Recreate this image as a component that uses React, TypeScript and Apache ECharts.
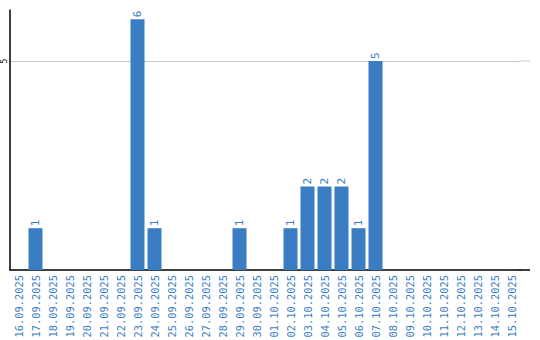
import React, { useEffect, useRef } from "react";
import * as echarts from "echarts";

const categories = [
  "16.09.2025", "17.09.2025", "18.09.2025", "19.09.2025", "20.09.2025",
  "21.09.2025", "22.09.2025", "23.09.2025", "24.09.2025", "25.09.2025",
  "26.09.2025", "27.09.2025", "28.09.2025", "29.09.2025", "30.09.2025",
  "01.10.2025", "02.10.2025", "03.10.2025", "04.10.2025", "05.10.2025",
  "06.10.2025", "07.10.2025", "08.10.2025", "09.10.2025", "10.10.2025",
  "11.10.2025", "12.10.2025", "13.10.2025", "14.10.2025", "15.10.2025",
];
const values = [0, 1, 0, 0, 0, 0, 0, 6, 1, 0, 0, 0, 0, 1, 0, 0, 1, 2, 2, 2, 1, 5, 0, 0, 0, 0, 0, 0, 0, 0];
const yTickLabels = [5];

const BLUE = "#3a7dc3";
const FONT = "DejaVu Sans Mono";

export default function App() {
  const ref = useRef<HTMLDivElement>(null);
  useEffect(() => {
    if (!ref.current) return;
    const chart = echarts.init(ref.current, undefined, { renderer: "svg" });
    chart.setOption({
      animation: false,
      grid: {
        left: 10,
        top: 10,
        width: 510,
        height: 260,
        containLabel: false,
        outerBoundsMode: "none",
      },
      xAxis: {
        type: "category",
        data: categories,
        axisLine: { lineStyle: { color: "#000", width: 1.5 } },
        axisTick: { show: false },
        axisLabel: {
          interval: 0,
          rotate: 90,
          margin: 5,
          color: BLUE,
          fontFamily: FONT,
          fontSize: 10.4,
        },
      },
      yAxis: {
        type: "value",
        min: 0,
        max: 6.22,
        interval: 5,
        axisLine: { show: true, lineStyle: { color: "#000", width: 1.5 } },
        axisTick: { show: false },
        splitLine: {
          show: true,
          showMinLine: false,
          showMaxLine: false,
          lineStyle: { color: "#c8c8c8", width: 1 },
        },
        axisLabel: {
          rotate: 90,
          margin: 2,
          fontSize: 8,
          color: "#000",
          fontFamily: FONT,
          formatter: (v: number) => (yTickLabels.includes(v) ? String(v) : ""),
        },
      },
      series: [
        {
          type: "bar",
          data: values.map((v) => (v === 0 ? null : v)),
          barWidth: 14,
          itemStyle: { color: BLUE },
          label: {
            show: true,
            position: "top",
            rotate: 90,
            align: "left",
            verticalAlign: "middle",
            distance: 2,
            color: BLUE,
            fontSize: 11,
            fontFamily: FONT,
          },
        },
      ],
    });
    const right = chart.convertToPixel({ xAxisIndex: 0 }, categories[categories.length - 1]) as number;
    const y0 = chart.convertToPixel({ yAxisIndex: 0 }, 0) as number;
    const graphics: any[] = [
      {
        type: "line",
        shape: { x1: right + 8, y1: y0, x2: 530, y2: y0 },
        style: { stroke: "#000", lineWidth: 1.5 },
      },
    ];
    yTickLabels.forEach((t) => {
      const yy = chart.convertToPixel({ yAxisIndex: 0 }, t) as number;
      graphics.push({
        type: "line",
        shape: { x1: right + 8, y1: yy, x2: 530, y2: yy },
        style: { stroke: "#c8c8c8", lineWidth: 1 },
      });
    });
    chart.setOption({ graphic: graphics });
    return () => chart.dispose();
  }, []);
  return (
    <div
      ref={ref}
      style={{ position: "fixed", left: 0, top: 0, width: 540, height: 340, background: "#fff" }}
    />
  );
}
